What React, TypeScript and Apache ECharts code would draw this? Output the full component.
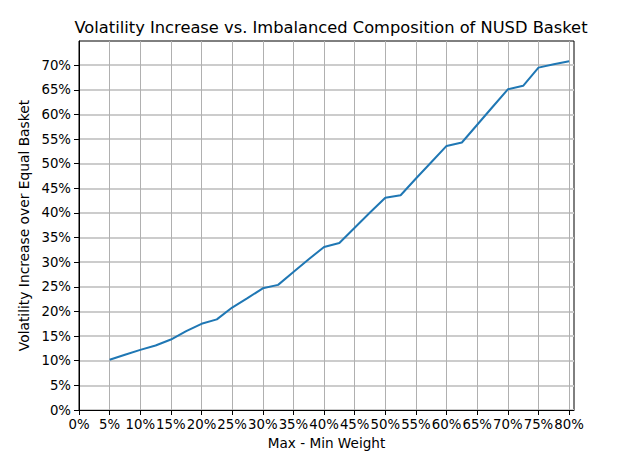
import React, { useEffect, useRef } from "react";
import * as echarts from "echarts";

const weights = [5, 7.5, 10, 12.5, 15, 17.5, 20, 22.5, 25, 27.5, 30, 32.5, 35, 37.5, 40, 42.5, 45, 47.5, 50, 52.5, 55, 57.5, 60, 62.5, 65, 67.5, 70, 72.5, 75, 77.5, 80];
const volIncrease = [10.2, 11.2, 12.2, 13.1, 14.3, 16.0, 17.5, 18.4, 20.8, 22.7, 24.7, 25.4, 28.0, 30.6, 33.1, 33.9, 37.0, 40.1, 43.1, 43.6, 47.0, 50.3, 53.6, 54.3, 57.9, 61.5, 65.1, 65.8, 69.5, 70.2, 70.8];
const xTicks = [0, 5, 10, 15, 20, 25, 30, 35, 40, 45, 50, 55, 60, 65, 70, 75, 80];
const yTicks = [0, 5, 10, 15, 20, 25, 30, 35, 40, 45, 50, 55, 60, 65, 70];

const FONT = "DejaVu Sans";

export default function App() {
  const ref = useRef<HTMLDivElement>(null);
  useEffect(() => {
    document.body.style.margin = "0";
    const chart = echarts.init(ref.current!, null, { renderer: "svg" });
    chart.setOption({
      animation: false,
      backgroundColor: "#ffffff",
      textStyle: { fontFamily: FONT },
      title: {
        text: "Volatility Increase vs. Imbalanced Composition of NUSD Basket",
        left: 326,
        textAlign: "center",
        top: 14,
        textStyle: { fontFamily: FONT, fontSize: 16.3, fontWeight: "normal", color: "#000" },
      },
      grid: {
        left: 79,
        top: 41,
        width: 495,
        height: 369,
        show: true,
        borderColor: "#000",
        borderWidth: 1,
        backgroundColor: "transparent",
      },
      xAxis: {
        type: "value",
        min: 0,
        max: 80.8,
        interval: 5,
        name: "Max - Min Weight",
        nameLocation: "middle",
        nameGap: 24,
        nameTextStyle: { fontFamily: FONT, fontSize: 13.6, color: "#000" },
        axisLine: { show: true, lineStyle: { color: "#000", width: 1 } },
        axisTick: { show: true, inside: false, length: 5, lineStyle: { color: "#000" }, customValues: xTicks },
        axisLabel: {
          customValues: xTicks,
          fontFamily: FONT,
          fontSize: 13.3,
          color: "#000",
          margin: 8,
          formatter: (v: number) => v + "%",
        },
        splitLine: { show: true, lineStyle: { color: "#b0b0b0", width: 1 } },
      },
      yAxis: {
        type: "value",
        min: 0,
        max: 74.9,
        interval: 5,
        name: "Volatility Increase over Equal Basket",
        nameLocation: "middle",
        nameGap: 48,
        nameRotate: 90,
        nameTextStyle: { fontFamily: FONT, fontSize: 13.8, color: "#000" },
        axisLine: { show: true, lineStyle: { color: "#000", width: 1 } },
        axisTick: { show: true, inside: false, length: 5, lineStyle: { color: "#000" }, customValues: yTicks },
        axisLabel: {
          customValues: yTicks,
          fontFamily: FONT,
          fontSize: 13.3,
          color: "#000",
          margin: 8,
          formatter: (v: number) => v + "%",
        },
        splitLine: { show: true, lineStyle: { color: "#cccccc", width: 2 } },
      },
      series: [
        {
          type: "line",
          data: weights.map((w, i) => [w, volIncrease[i]]),
          showSymbol: false,
          symbol: "none",
          lineStyle: { color: "#1f77b4", width: 2 },
          itemStyle: { color: "#1f77b4" },
        },
      ],
    });
    return () => chart.dispose();
  }, []);
  return <div ref={ref} style={{ width: 625, height: 471 }} />;
}
